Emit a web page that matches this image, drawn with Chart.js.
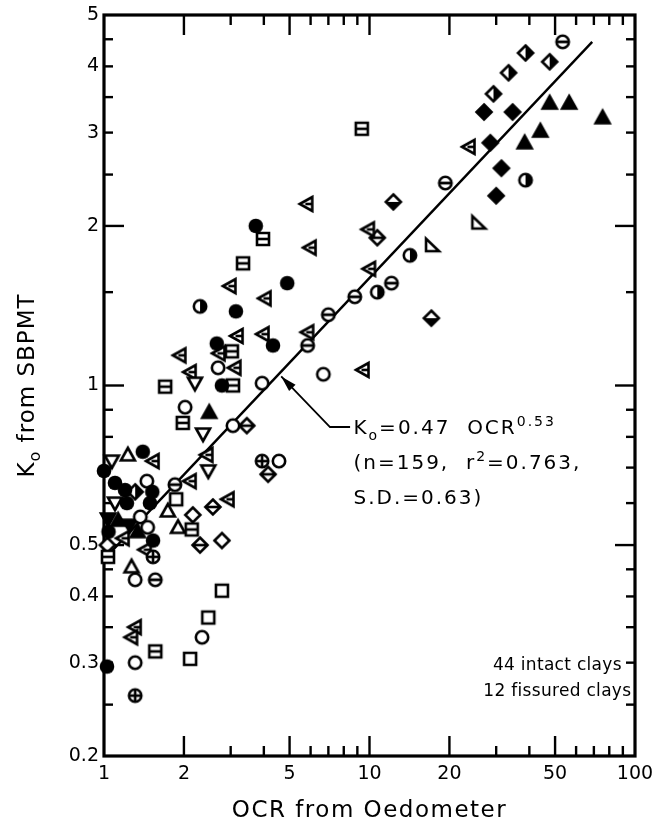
<!DOCTYPE html>
<html>
<head>
<meta charset="utf-8">
<script src="https://cdn.jsdelivr.net/npm/chart.js@4/dist/chart.umd.min.js"></script>
<style>
html,body{margin:0;padding:0;background:#fff;}
#wrap{width:665px;height:829px;position:relative;}
</style>
</head>
<body>
<div id="wrap"><canvas id="c" width="665" height="829"></canvas></div>
<script>
// ---------- data (OCR from oedometer, Ko from SBPMT) ----------
const xTickLabels = [1, 2, 5, 10, 20, 50, 100];
const yTickLabels = [0.2, 0.3, 0.4, 0.5, 1, 2, 3, 4, 5];
const xMajorTicks = [2, 5, 10, 20, 50];
const xMinorTicks = [3, 4, 6, 7, 8, 9, 30, 40, 60, 70, 80, 90];
const yMajorTicks = [0.5, 1, 2];
const yMinorTicks = [0.25, 0.3, 0.35, 0.4, 0.45, 0.6, 0.7, 0.8, 0.9, 1.5, 2.5, 3, 3.5, 4, 4.5];

const filledCircles = [[3.73,2.0],[4.9,1.56],[3.14,1.38],[2.66,1.2],[4.33,1.19],[2.78,1.0],[1.4,0.75],[1.0,0.69],[1.1,0.655],[1.52,0.63],[1.22,0.6],[1.49,0.6],[1.53,0.51],[1.04,0.53],[1.2,0.635],[1.026,0.295]];
const openCircles = [[6.7,1.05],[4.56,0.72],[2.69,1.08],[3.94,1.01],[2.02,0.91],[3.06,0.84],[2.34,0.335],[1.31,0.3],[1.31,0.43],[1.45,0.66],[1.37,0.565],[1.46,0.54]];
const barCircles = [[53.4,4.45],[19.3,2.41],[12.1,1.56],[8.8,1.47],[7.0,1.36],[5.85,1.19],[1.85,0.65],[1.56,0.43]];
const crossCircles = [[3.94,0.72],[1.53,0.475],[1.31,0.26]];
const halfCircles = [[38.7,2.44],[14.2,1.76],[10.7,1.5],[2.3,1.41]];
const openSquares = [[1.87,0.61],[2.78,0.41],[2.47,0.365],[2.11,0.305]];
const barSquares = [[9.35,3.05],[3.97,1.89],[3.34,1.7],[3.03,1.16],[3.06,1.0],[1.7,0.995],[1.98,0.85],[2.14,0.535],[1.035,0.475],[1.56,0.315]];
const upTriangles = [[1.23,0.74],[1.74,0.58],[1.9,0.54],[1.27,0.455]];
const filledTriangles = [[47.7,3.41],[56.5,3.41],[75.5,3.2],[44,3.02],[38.4,2.87],[2.49,0.89],[1.34,0.53],[1.13,0.557]];
const downTriangles = [[2.2,1.01],[2.36,0.81],[2.47,0.69],[1.07,0.72],[1.1,0.6]];
const filledDownTriangles = [[1.035,0.56],[1.25,0.545]];
const leftTriangles = [[23.7,2.82],[5.8,2.2],[9.9,1.97],[5.97,1.82],[10,1.66],[5.85,1.26],[9.45,1.07],[2.98,1.54],[4.04,1.46],[3.17,1.24],[3.97,1.25],[2.71,1.15],[1.93,1.14],[3.11,1.08],[2.11,1.06],[2.44,0.74],[2.11,0.66],[2.93,0.61],[1.53,0.72],[1.43,0.49],[1.31,0.35],[1.27,0.335],[1.18,0.515]];
const rightTriangles = [[25.7,2.03],[17.2,1.84]];
const openDiamonds = [[2.16,0.57],[2.78,0.51],[1.03,0.5]];
const barDiamonds = [[10.7,1.9],[3.45,0.84],[4.15,0.68],[2.57,0.59],[2.3,0.5]];
const lowerHalfDiamonds = [[12.3,2.22],[17.1,1.34]];
const sideHalfDiamonds = [[38.7,4.24],[47.7,4.08],[33.4,3.89],[29.3,3.55],[1.31,0.63]];
const filledDiamonds = [[27,3.28],[34.6,3.28],[28.5,2.87],[31.4,2.57],[30,2.28]];
const fitLine = [[1.0,0.47],[69,4.45]];

// ---------- marker glyphs ----------
const FONT = "'DejaVu Sans', 'Liberation Sans', sans-serif";
function markerCanvas(draw){
  const c = document.createElement('canvas'); c.width = 22; c.height = 22;
  const g = c.getContext('2d'); g.translate(11,11);
  g.lineWidth = 2.6; g.strokeStyle = '#000'; g.fillStyle = '#000'; g.lineJoin = 'miter';
  draw(g); return c;
}
function circ(g,r){ g.beginPath(); g.arc(0,0,r,0,Math.PI*2); }
function poly(g,pts){ g.beginPath(); pts.forEach((p,i)=> i ? g.lineTo(p[0],p[1]) : g.moveTo(p[0],p[1])); g.closePath(); }
function hollow(g){ g.fillStyle='#fff'; g.fill(); g.stroke(); g.fillStyle='#000'; }
function seg(g,x1,y1,x2,y2){ g.beginPath(); g.moveTo(x1,y1); g.lineTo(x2,y2); g.stroke(); }
const TRI_UP = [[0,-7],[7,5.5],[-7,5.5]];
const TRI_DOWN = [[0,7],[7,-5.5],[-7,-5.5]];
const TRI_LEFT = [[-7,0],[5.5,-7],[5.5,7]];
const TRI_CORNER = [[-6,-6.5],[-6,6],[7,6]];
const DIAMOND = [[0,-7.5],[7.5,0],[0,7.5],[-7.5,0]];
const SQUARE = [[-6,-6],[6,-6],[6,6],[-6,6]];
const R = 6.2;
const markers = {
  filledCircle: markerCanvas(g=>{ circ(g,7.3); g.fill(); }),
  openCircle: markerCanvas(g=>{ circ(g,R); hollow(g); }),
  barCircle: markerCanvas(g=>{ circ(g,R); hollow(g); g.lineWidth=2.8; seg(g,-R,0,R,0); }),
  crossCircle: markerCanvas(g=>{ circ(g,R); hollow(g); seg(g,-R,0,R,0); seg(g,0,-R,0,R); }),
  halfCircle: markerCanvas(g=>{ circ(g,R); hollow(g); g.beginPath(); g.arc(0,0,R,-Math.PI/2,Math.PI/2); g.closePath(); g.fill(); }),
  openSquare: markerCanvas(g=>{ poly(g,SQUARE); hollow(g); }),
  barSquare: markerCanvas(g=>{ poly(g,SQUARE); hollow(g); seg(g,-6,0,6,0); }),
  upTriangle: markerCanvas(g=>{ poly(g,TRI_UP); hollow(g); }),
  filledTriangle: markerCanvas(g=>{ poly(g,TRI_UP); g.fill(); g.stroke(); }),
  downTriangle: markerCanvas(g=>{ poly(g,TRI_DOWN); hollow(g); }),
  filledDownTriangle: markerCanvas(g=>{ poly(g,TRI_DOWN); g.fill(); g.stroke(); }),
  leftTriangle: markerCanvas(g=>{ poly(g,TRI_LEFT); hollow(g); seg(g,-1.5,0,5.5,0); }),
  rightTriangle: markerCanvas(g=>{ poly(g,TRI_CORNER); hollow(g); }),
  openDiamond: markerCanvas(g=>{ poly(g,DIAMOND); hollow(g); }),
  barDiamond: markerCanvas(g=>{ poly(g,DIAMOND); hollow(g); seg(g,-7.5,0,7.5,0); }),
  lowerHalfDiamond: markerCanvas(g=>{ poly(g,DIAMOND); hollow(g); poly(g,[[-7.5,0],[7.5,0],[0,7.5]]); g.fill(); }),
  sideHalfDiamond: markerCanvas(g=>{ poly(g,DIAMOND); hollow(g); poly(g,[[0,-7.5],[7.5,0],[0,7.5]]); g.fill(); }),
  filledDiamond: markerCanvas(g=>{ poly(g,DIAMOND); g.fill(); g.stroke(); })
};

const series = [
  [filledCircles,'filledCircle'],[openCircles,'openCircle'],[barCircles,'barCircle'],
  [crossCircles,'crossCircle'],[halfCircles,'halfCircle'],[openSquares,'openSquare'],
  [barSquares,'barSquare'],[upTriangles,'upTriangle'],[filledTriangles,'filledTriangle'],
  [downTriangles,'downTriangle'],[filledDownTriangles,'filledDownTriangle'],
  [leftTriangles,'leftTriangle'],[rightTriangles,'rightTriangle'],[openDiamonds,'openDiamond'],
  [barDiamonds,'barDiamond'],[lowerHalfDiamonds,'lowerHalfDiamond'],
  [sideHalfDiamonds,'sideHalfDiamond'],[filledDiamonds,'filledDiamond']
];

const datasets = series.map(([pts,name]) => ({
  type:'scatter', label:name,
  data: pts.map(([x,y]) => ({x,y})),
  pointStyle: markers[name], pointRadius: 7, clip: false, order: 1
}));
datasets.push({
  type:'scatter', label:'fit', showLine:true,
  data: fitLine.map(([x,y]) => ({x,y})),
  borderColor:'#000', borderWidth:2.4, pointRadius:0, clip:false, order:10
});

// ---------- drawing helpers ----------
function richText(ctx, x, y, parts, size, align){
  ctx.save();
  ctx.textBaseline = 'alphabetic';
  ctx.textAlign = 'left';
  let total = 0;
  const small = Math.round(size*0.7);
  parts.forEach(p => { ctx.font = (p.sub||p.sup ? small : size) + 'px ' + FONT; p.w = ctx.measureText(p.t).width; total += p.w; });
  let cx = align === 'center' ? x - total/2 : x;
  parts.forEach(p => {
    ctx.font = (p.sub||p.sup ? small : size) + 'px ' + FONT;
    const dy = p.sub ? size*0.28 : (p.sup ? -size*0.42 : 0);
    ctx.fillText(p.t, cx, y + dy);
    cx += p.w;
  });
  ctx.restore();
}

const framePlugin = {
  id:'frame',
  beforeDatasetsDraw(chart){
    const {ctx, chartArea:a, scales:{x, y}} = chart;
    ctx.save();
    ctx.strokeStyle = '#000';
    ctx.lineWidth = 2.4;
    ctx.lineCap = 'butt';
    const line = (x1,y1,x2,y2) => { ctx.beginPath(); ctx.moveTo(x1,y1); ctx.lineTo(x2,y2); ctx.stroke(); };
    const vt = (v,len) => { const p = x.getPixelForValue(v); line(p,a.bottom,p,a.bottom-len); line(p,a.top,p,a.top+len); };
    const ht = (v,len) => { const p = y.getPixelForValue(v); line(a.left,p,a.left+len,p); line(a.right,p,a.right-len,p); };
    xMajorTicks.forEach(v => vt(v,20));
    xMinorTicks.forEach(v => vt(v,10));
    yMajorTicks.forEach(v => ht(v,20));
    yMinorTicks.forEach(v => ht(v,9));
    ctx.lineWidth = 3.2;
    ctx.strokeRect(a.left, a.top, a.right-a.left, a.bottom-a.top);
    ctx.restore();
  },
  afterDraw(chart){
    const {ctx, chartArea:a, scales:{x, y}} = chart;
    ctx.save();
    ctx.fillStyle = '#000';
    ctx.strokeStyle = '#000';
    // arrow to the fitted line
    const tip = [x.getPixelForValue(4.65), y.getPixelForValue(1.04)];
    const elbow = [x.getPixelForValue(7.1), y.getPixelForValue(0.835)];
    const tail = [x.getPixelForValue(8.45), y.getPixelForValue(0.835)];
    ctx.lineWidth = 1.8;
    ctx.beginPath(); ctx.moveTo(tail[0],tail[1]); ctx.lineTo(elbow[0],elbow[1]); ctx.lineTo(tip[0],tip[1]); ctx.stroke();
    const ang = Math.atan2(tip[1]-elbow[1], tip[0]-elbow[0]);
    ctx.save(); ctx.translate(tip[0],tip[1]); ctx.rotate(ang);
    ctx.beginPath(); ctx.moveTo(0,0); ctx.lineTo(-16,-4.5); ctx.lineTo(-16,4.5); ctx.closePath(); ctx.fill();
    ctx.restore();
    // equation text
    const tx = x.getPixelForValue(8.7);
    const base = y.getPixelForValue(0.835);
    ctx.letterSpacing = '2px';
    richText(ctx, tx, base+7, [{t:'K'},{t:'o',sub:true},{t:'=0.47  OCR'},{t:'0.53',sup:true}], 20, 'left');
    richText(ctx, tx, base+42, [{t:'(n=159,  r'},{t:'2',sup:true},{t:'=0.763,'}], 20, 'left');
    richText(ctx, tx, base+77, [{t:'S.D.=0.63)'}], 20, 'left');
    // clay counts
    ctx.letterSpacing = '0.3px';
    const cx = x.getPixelForValue(51);
    richText(ctx, cx, y.getPixelForValue(0.298)+6, [{t:'44 intact clays'}], 17, 'center');
    richText(ctx, cx, y.getPixelForValue(0.266)+6, [{t:'12 fissured clays'}], 17, 'center');
    // axis titles
    ctx.letterSpacing = '1.5px';
    richText(ctx, (a.left+a.right)/2, 817, [{t:'OCR from Oedometer'}], 23, 'center');
    ctx.letterSpacing = '1px';
    ctx.save();
    ctx.translate(34, (a.top+a.bottom)/2);
    ctx.rotate(-Math.PI/2);
    richText(ctx, 0, 0, [{t:'K'},{t:'o',sub:true},{t:' from SBPMT'}], 23, 'center');
    ctx.restore();
    ctx.restore();
  }
};

Chart.defaults.color = '#000';
Chart.defaults.font.family = FONT;

new Chart(document.getElementById('c'), {
  type:'scatter',
  data:{ datasets },
  plugins:[framePlugin],
  options:{
    responsive:false, animation:false, devicePixelRatio:1,
    layout:{ padding:{ left:0, right:30, top:15, bottom:0 } },
    plugins:{ legend:{display:false}, tooltip:{enabled:false} },
    scales:{
      x:{
        type:'logarithmic', position:'bottom', min:1, max:100, bounds:'data',
        afterBuildTicks: s => { s.ticks = xTickLabels.map(v => ({value:v})); },
        afterFit: s => { s.height = 73; s.paddingLeft = 0; s.paddingRight = 0; },
        grid:{ display:false, drawTicks:false }, border:{ display:false },
        ticks:{ autoSkip:false, maxRotation:0, minRotation:0, padding:7, color:'#000',
                font:{ family:FONT, size:19 }, callback: v => String(v) }
      },
      y:{
        type:'logarithmic', position:'left', min:0.2, max:5, bounds:'data',
        afterBuildTicks: s => { s.ticks = yTickLabels.map(v => ({value:v})); },
        afterFit: s => { s.width = 104; s.paddingTop = 0; s.paddingBottom = 0; },
        grid:{ display:false, drawTicks:false }, border:{ display:false },
        ticks:{ autoSkip:false, padding:5, color:'#000',
                font:{ family:FONT, size:19 }, callback: v => String(v) }
      }
    }
  }
});
</script>
</body>
</html>
